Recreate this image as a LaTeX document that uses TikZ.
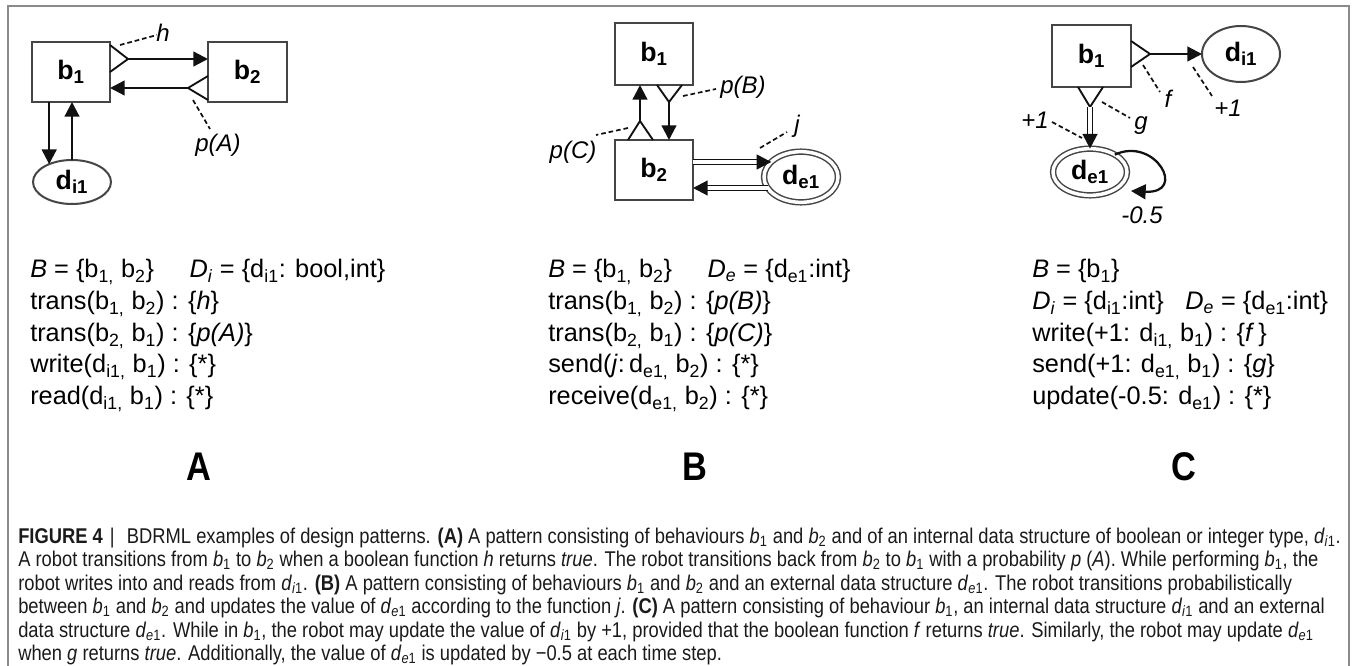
\documentclass[tikz,border=0pt]{standalone}
\usepackage{fontspec}
\setmainfont{Liberation Sans}
\newfontfamily\capfont[FakeStretch=0.86]{Liberation Sans}
\usetikzlibrary{arrows.meta,shapes.geometric,calc}
\definecolor{boxc}{HTML}{454545}
\definecolor{linec}{HTML}{111111}
\definecolor{framec}{HTML}{8A8A8A}
\definecolor{capc}{HTML}{1A1A1A}
\newcommand\ssb[1]{\textsubscript{#1}}
\newcommand\cvb[1]{\textit{b}\textsubscript{#1}}
\newcommand\cdi{\textit{d}\textsubscript{\textit{i}1}}
\newcommand\cde{\textit{d}\textsubscript{\textit{e}1}}
\begin{document}
\begin{tikzpicture}[x=0.75pt,y=-0.75pt,
  box/.style={draw=boxc,line width=1.6pt,inner sep=0pt,outer sep=0pt,font=\fontsize{20}{23}\selectfont\bfseries},
  data/.style={ellipse,draw=boxc,line width=1.5pt,inner sep=0pt,outer sep=0pt,font=\fontsize{20}{23}\selectfont\bfseries},
  ext/.style={data,double,double distance=2.6pt,line width=1.1pt},
  arr/.style={line width=1.7pt,draw=linec,-{Triangle[length=11pt,width=11pt]}},
  gate/.style={line width=1.4pt,draw=linec,line join=miter},
  dsh/.style={line width=1.3pt,draw=linec,dash pattern=on 3.5pt off 2.2pt},
  dbl/.style={draw=linec,double,double distance=2.6pt,line width=1.1pt},
  lbl/.style={font=\fontsize{18}{21}\selectfont\itshape,inner sep=0pt},
  lst/.style={font=\fontsize{19}{22}\selectfont,anchor=base west,inner sep=0pt},
  ttl/.style={font=\capfont\fontsize{30}{33}\selectfont\bfseries,inner sep=0pt},
  captxt/.style={font=\capfont\fontsize{16}{19}\selectfont,anchor=base west,inner sep=0pt,text=capc},
]
\useasboundingbox (0,0) rectangle (1356,666);
\draw[framec,line width=1.2pt] (8,720) -- (8,6) -- (1349,6) -- (1349,720);

% ---------------- Panel A ----------------
\node[box,minimum width=58.5pt,minimum height=45pt] (b1A) at (71,72) {b\ssb{1}};
\node[box,minimum width=59.25pt,minimum height=45pt] (b2A) at (247.5,72) {b\ssb{2}};
\node[data,minimum width=58.5pt,minimum height=33pt] (dA) at (72,182) {d\ssb{i1}};
\coordinate (gA1) at (128,59);
\draw[gate] (110,45) -- (gA1) -- (110,72);
\draw[arr] (gA1) -- (gA1 -| b2A.west);
\coordinate (gA2) at (188,88);
\draw[gate] (208,76) -- (gA2) -- (208,100);
\draw[arr] (gA2) -- (gA2 -| b1A.east);
\draw[arr] (dA.142 |- b1A.south) -- (dA.142);
\draw[arr] (dA.north) -- (dA.north |- b1A.south);
\node[lbl] (hA) at (163,33) {h};
\node[lbl] (pA) at (218,145) {p(A)};
\coordinate (hA0) at (120,45); \coordinate (hA1) at (157,35);
\draw[dsh] (hA0) -- (hA1);
\coordinate (pA0) at (193,100); \coordinate (pA1) at (210,129);
\draw[dsh] (pA0) -- (pA1);

% ---------------- Panel B ----------------
\node[box,minimum width=58.5pt,minimum height=46.5pt] (b1B) at (654,54) {b\ssb{1}};
\node[box,minimum width=58.5pt,minimum height=45pt] (b2B) at (654,170) {b\ssb{2}};
\node[ext,minimum width=55.5pt,minimum height=38pt] (dB) at (801,177) {d\ssb{e1}};
\coordinate (gB1) at (640,121);
\draw[gate] (628,140) -- (gB1) -- (653,140);
\draw[arr] (gB1) -- (gB1 |- b1B.south);
\coordinate (gB2) at (669,102);
\draw[gate] (657,85) -- (gB2) -- (682,85);
\draw[arr] (gB2) -- (gB2 |- b2B.north);
\path (b2B.east) ++(0,-8) coordinate (u1);
\path (b2B.east) ++(0,18) coordinate (l1);
\coordinate (u2) at (u1 -| dB.153);
\coordinate (l2) at (l1 -| dB.198);
\draw[dbl] (u1) -- ($(u2)+(-8,0)$);
\draw[arr] ($(u2)+(-13,0)$) -- (u2);
\draw[dbl] (l2) -- ($(l1)+(8,0)$);
\draw[arr] ($(l1)+(13,0)$) -- (l1);
\node[lbl] (pB) at (743,87) {p(B)};
\node[lbl] (pC) at (573,152) {p(C)};
\node[lbl] (jB) at (797,126) {j};
\coordinate (pB0) at (683,96); \coordinate (pB1) at (716,89);
\draw[dsh] (pB0) -- (pB1);
\coordinate (pC0) at (628,128); \coordinate (pC1) at (596,135);
\draw[dsh] (pC0) -- (pC1);
\coordinate (jB0) at (760,148); \coordinate (jB1) at (787,132);
\draw[dsh] (jB0) -- (jB1);

% ---------------- Panel C ----------------
\node[box,minimum width=59.25pt,minimum height=46.5pt] (b1C) at (1091.5,56) {b\ssb{1}};
\node[data,minimum width=58.5pt,minimum height=42pt] (dCi) at (1241,54) {d\ssb{i1}};
\node[ext,minimum width=55.5pt,minimum height=35pt] (dCe) at (1090,172) {d\ssb{e1}};
\coordinate (gC1) at (1150,54);
\draw[gate] (1131,41) -- (gC1) -- (1131,67);
\draw[arr] (gC1) -- (gC1 -| dCi.west);
\coordinate (gC2) at (1090,107);
\draw[gate] (1078,87) -- (gC2) -- (1103,87);
\draw[dbl] (gC2) -- ($(dCe.north)+(0,-8)$);
\draw[arr] ($(dCe.north)+(0,-13)$) -- (dCe.north);
\coordinate (loopEnd) at (1131,191);
\draw[arr] (dCe.35) .. controls (1155,136) and (1188,194) .. (loopEnd);
\node[lbl] (fC) at (1168,99) {f};
\node[lbl] (p1C) at (1228,108) {+1};
\node[lbl] (gC) at (1141,126) {g};
\node[lbl] (p1L) at (1035,120) {+1};
\node[lbl] (mC) at (1142,215) {-0.5};
\coordinate (fC0) at (1143,65); \coordinate (fC1) at (1160,92);
\draw[dsh] (fC0) -- (fC1);
\coordinate (pc0) at (1193,67); \coordinate (pc1) at (1212,96);
\draw[dsh] (pc0) -- (pc1);
\coordinate (gC0) at (1102,102); \coordinate (gC3) at (1130,118);
\draw[dsh] (gC0) -- (gC3);
\coordinate (pl0) at (1052,122); \coordinate (pl1) at (1082,138);
\draw[dsh] (pl0) -- (pl1);

% ---------------- Lists ----------------
\node[lst] (la1) at (30,278) {\textit{B} = \{b\ssb{1,} b\ssb{2}\}\hspace{1.4em}\textit{D}\ssb{\textit{i}} = \{d\ssb{i1}: bool,int\}};
\node[lst] (la2) at (30,310) {trans(b\ssb{1,} b\ssb{2}) : \{\textit{h}\}};
\node[lst] (la3) at (30,342) {trans(b\ssb{2,} b\ssb{1}) : \{\textit{p(A)}\}};
\node[lst] (la4) at (30,373) {write(d\ssb{i1,} b\ssb{1}) : \{*\}};
\node[lst] (la5) at (30,405) {read(d\ssb{i1,} b\ssb{1}) : \{*\}};

\node[lst] (lb1) at (548,278) {\textit{B} = \{b\ssb{1,} b\ssb{2}\}\hspace{1.4em}\textit{D}\ssb{\textit{e}} = \{d\ssb{e1}:int\}};
\node[lst] (lb2) at (548,310) {trans(b\ssb{1,} b\ssb{2}) : \{\textit{p(B)}\}};
\node[lst] (lb3) at (548,342) {trans(b\ssb{2,} b\ssb{1}) : \{\textit{p(C)}\}};
\node[lst] (lb4) at (548,373) {send(\textit{j}:\,d\ssb{e1,} b\ssb{2}) : \{*\}};
\node[lst] (lb5) at (548,405) {receive(d\ssb{e1,} b\ssb{2}) : \{*\}};

\node[lst] (lc1) at (1032,278) {\textit{B} = \{b\ssb{1}\}};
\node[lst] (lc2) at (1032,310) {\textit{D}\ssb{\textit{i}} = \{d\ssb{i1}:int\}\hspace{0.85em}\textit{D}\ssb{\textit{e}} = \{d\ssb{e1}:int\}};
\node[lst] (lc3) at (1032,342) {write(+1: d\ssb{i1,} b\ssb{1}) : \{\textit{f}\,\}};
\node[lst] (lc4) at (1032,373) {send(+1: d\ssb{e1,} b\ssb{1}) : \{\textit{g}\}};
\node[lst] (lc5) at (1032,405) {update(-0.5: d\ssb{e1}) : \{*\}};

% ---------------- Titles ----------------
\node[ttl] (tA) at (199,467) {A};
\node[ttl] (tB) at (695,467) {B};
\node[ttl] (tC) at (1184,467) {C};

% ---------------- Caption ----------------
\node[captxt] (c1) at (18,543) {\textbf{FIGURE 4}\,\,|\,\, BDRML examples of design patterns. \textbf{(A)} A pattern consisting of behaviours \cvb{1} and \cvb{2} and of an internal data structure of boolean or integer type, \cdi.};
\node[captxt] (c2) at (18,566.5) {A robot transitions from \cvb{1} to \cvb{2} when a boolean function \textit{h} returns \textit{true}. The robot transitions back from \cvb{2} to \cvb{1} with a probability \textit{p}~(\textit{A}). While performing \cvb{1}, the};
\node[captxt] (c3) at (18,590) {robot writes into and reads from \cdi. \textbf{(B)} A pattern consisting of behaviours \cvb{1} and \cvb{2} and an external data structure \cde. The robot transitions probabilistically};
\node[captxt] (c4) at (18,613.5) {between \cvb{1} and \cvb{2} and updates the value of \cde{} according to the function \textit{j}. \textbf{(C)} A pattern consisting of behaviour \cvb{1}, an internal data structure \cdi{} and an external};
\node[captxt] (c5) at (18,637) {data structure \cde. While in \cvb{1}, the robot may update the value of \cdi{} by +1, provided that the boolean function \textit{f} returns \textit{true}. Similarly, the robot may update \cde};
\node[captxt] (c6) at (18,660) {when \textit{g} returns \textit{true}. Additionally, the value of \cde{} is updated by −0.5 at each time step.};
\end{tikzpicture}
\end{document}
